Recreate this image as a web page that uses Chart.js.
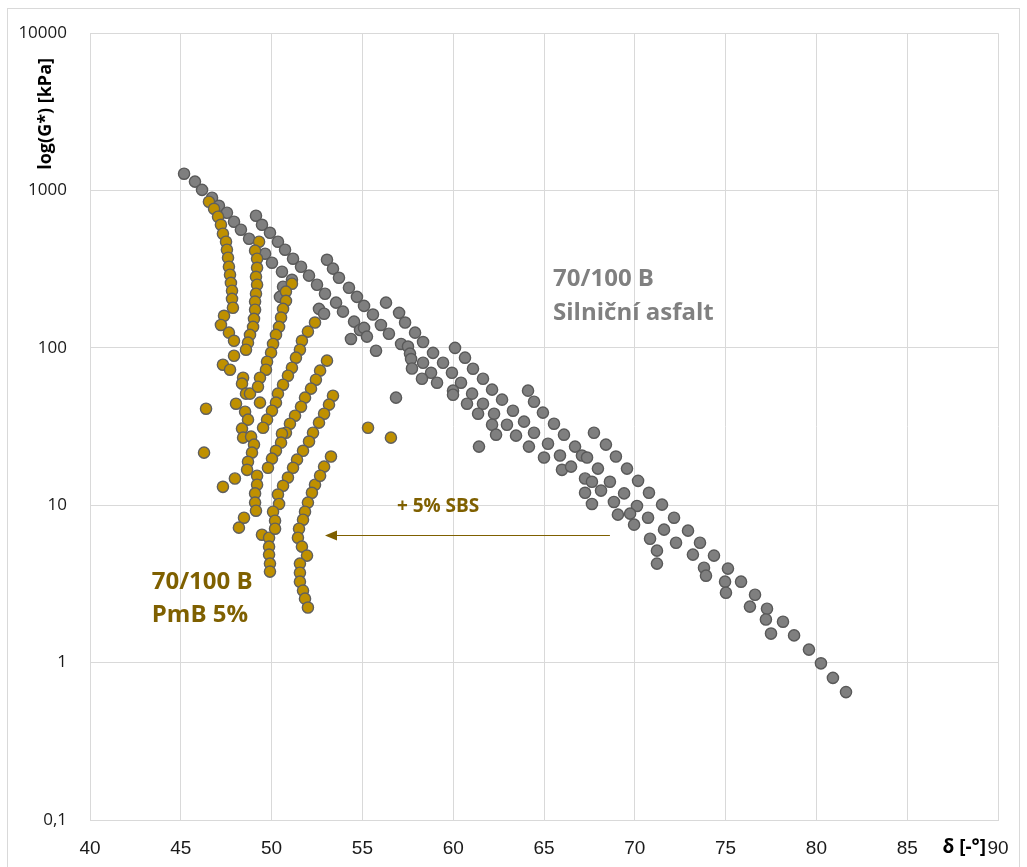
<!DOCTYPE html>
<html>
<head>
<meta charset="utf-8">
<script src="https://cdn.jsdelivr.net/npm/chart.js@4.4.0/dist/chart.umd.min.js"></script>
<style>
  html, body { margin: 0; padding: 0; background: #fff; }
  #wrap { width: 1027px; height: 867px; }
</style>
</head>
<body>
<div id="wrap"><canvas id="c" width="1027" height="867"></canvas></div>
<script>
"use strict";

// 70/100 B silnicni asfalt: phase angle [deg], G* [kPa]
const grayDelta = [
  45.18, 45.78, 46.17, 46.72, 47.10, 47.54, 47.93, 48.31, 48.76, 49.64, 50.02, 50.57, 51.12, 50.63, 50.46,
  49.14, 49.47, 49.91, 50.35, 50.74, 51.18, 51.62, 52.06, 52.50, 52.94, 53.55, 53.93, 54.54, 54.87, 55.09, 55.25, 54.37, 55.75, 52.61, 52.89,
  53.05, 53.38, 53.71, 54.26, 54.70, 55.09, 55.58, 56.02, 56.46, 57.13, 57.51, 57.62, 57.68, 57.73, 58.34, 58.78, 58.28, 59.11, 56.85,
  56.30, 57.02, 57.35, 57.90, 58.34, 58.89, 59.44, 59.93, 60.43, 61.04, 61.64, 62.25, 62.96, 63.46, 64.17, 65.00, 65.99,
  60.10, 60.65, 61.09, 61.64, 62.14, 62.69, 63.29, 63.90, 64.45, 65.22, 65.88, 66.49,
  59.99, 59.99, 60.76, 61.37, 62.14, 62.36, 61.42,
  64.12, 64.45, 64.94, 65.55, 66.10, 66.71, 67.09, 67.37, 67.97, 68.63, 69.41, 70.12, 70.73, 71.61, 72.27, 73.20, 73.81, 73.92, 74.97, 75.02, 76.34,
  67.75, 68.41, 68.96, 69.57, 70.18, 70.78, 71.50, 72.16, 72.93, 73.59, 74.36, 75.13, 75.85, 76.62,
  67.26, 67.64, 67.26, 68.14, 67.64, 68.85, 69.07, 69.74, 69.96, 70.84, 71.22, 71.22,
  77.28, 77.22, 78.16, 77.50, 78.77, 79.59, 80.25, 80.91, 81.63
];
const grayG = [
  1280, 1140, 1010, 900, 800, 723, 634, 564, 494, 397, 348, 305, 271, 245, 211,
  692, 606, 539, 473, 421, 369, 328, 288, 252, 221, 194, 170, 147, 130, 134, 118, 114, 96, 177, 165,
  363, 319, 279, 241, 211, 185, 163, 140, 123, 106, 102, 92, 85, 74, 80.5, 69.5, 63.7, 60.1, 48.3,
  194, 167, 145, 125, 109, 93, 80.5, 69.5, 60.1, 51.2, 44.2, 38.2, 32.5, 27.7, 23.6, 20.1, 16.8,
  100, 86.7, 73.8, 63.7, 54.3, 46.9, 39.9, 34.0, 28.9, 24.6, 20.7, 17.6,
  53.5, 50.4, 44.2, 38.2, 32.5, 28.1, 23.6,
  53.5, 45.5, 38.8, 33.0, 28.1, 23.6, 20.7, 20.1, 17.1, 14.1, 11.9, 9.9, 8.34, 7.0, 5.78, 4.86, 4.01, 3.57, 3.27, 2.78, 2.27,
  28.9, 24.3, 20.4, 17.1, 14.3, 12.0, 10.1, 8.34, 6.9, 5.78, 4.79, 3.96, 3.27, 2.70,
  14.8, 14.1, 12.0, 12.4, 10.2, 10.5, 8.72, 8.85, 7.53, 6.13, 5.15, 4.26,
  2.20, 1.88, 1.82, 1.53, 1.49, 1.21, 0.99, 0.80, 0.65
];

// 70/100 B PmB 5%
const goldDelta = [
  46.55, 46.83, 47.05, 47.21, 47.32, 47.49, 47.54, 47.60, 47.65, 47.71, 47.76, 47.82, 47.82, 47.87, 47.38, 47.21, 47.65, 47.93,
  47.32, 47.71, 48.43, 48.37, 48.59, 48.81, 48.04, 48.54, 48.70, 48.37, 48.43, 48.87, 49.03, 48.92, 48.70, 48.65, 47.98, 47.32,
  46.39, 46.28,
  49.20, 49.20, 49.09, 49.09, 49.14, 48.48, 48.20, 49.47, 49.86, 49.86, 49.86, 49.91, 49.91,
  52.39, 52.22, 52.00, 51.84, 51.73, 51.51, 51.45, 51.67, 51.95, 51.56, 51.56, 51.56, 51.73, 51.84, 52.00,
  49.31, 49.09, 49.20, 49.20, 49.14, 49.20, 49.14, 49.09, 49.09, 49.03, 48.98, 48.81, 48.70, 48.59, 47.93,
  51.12, 50.79, 50.79, 50.63, 50.52, 50.41, 50.24, 50.08, 49.97, 49.75, 49.69, 49.36, 49.25, 49.36,
  52.39, 52.00, 51.67, 51.56, 51.34, 51.12, 50.90, 50.63, 50.35, 50.24, 50.02, 49.75, 49.53,
  53.05, 52.67, 52.44, 52.17, 51.84, 51.62, 51.29, 51.01, 50.79, 50.57, 50.52, 50.24, 50.02, 49.80,
  53.38, 53.16, 52.89, 52.61, 52.28, 52.06, 51.73, 51.40, 51.18, 50.90, 50.63, 50.35, 50.41, 50.08, 50.19, 50.19,
  53.27, 52.89, 52.67,
  55.31, 56.57
];
const goldG = [
  849, 766, 682, 606, 532, 473, 421, 374, 328, 292, 259, 231, 205, 180, 160, 140, 125, 111,
  78.2, 72.7, 64.7, 59.3, 51.2, 51.2, 44.2, 39.3, 35.0, 30.7, 26.9, 27.3, 24.3, 21.6, 18.9, 16.8, 14.8, 13.1,
  41.1, 21.6,
  15.4, 13.5, 11.9, 10.4, 9.24, 8.34, 7.21, 6.50, 6.22, 5.46, 4.86, 4.26, 3.79,
  13.5, 12.0, 10.4, 9.1, 8.1, 7.1, 6.22, 5.46, 4.79, 4.26, 3.73, 3.27, 2.87, 2.55, 2.24,
  473, 415, 369, 323, 283, 252, 221, 197, 175, 153, 136, 121, 108, 97.4, 89.2,
  256, 228, 199, 177, 156, 136, 121, 106, 93.3, 81.7, 72.7, 64.7, 56.7, 44.9,
  145, 127, 111, 97.4, 86.7, 74.8, 66.6, 58.4, 51.2, 44.9, 39.9, 35.0, 31.1,
  83.0, 71.7, 62.8, 55.1, 48.3, 42.3, 37.1, 33.0, 28.9, 28.5, 25.0, 22.2, 19.8, 17.3,
  49.7, 43.6, 38.2, 33.5, 28.9, 25.4, 22.2, 19.5, 17.3, 15.0, 13.3, 11.7, 10.2, 9.1, 7.98, 7.1,
  20.4, 17.6, 15.4,
  31.1, 26.9
];

const xTicks = [40, 45, 50, 55, 60, 65, 70, 75, 80, 85, 90];
const yTicks = [0.1, 1, 10, 100, 1000, 10000];

const GRAY_TEXT = "#808080";
const GOLD_TEXT = "#7f6000";
const GRID = "#d9d9d9";

function toPoints(xs, ys) {
  return xs.map((x, i) => ({ x: x, y: ys[i] }));
}

// background, frame, axis titles and annotations
const decor = {
  id: "decor",
  beforeDraw(chart) {
    const ctx = chart.ctx;
    ctx.save();
    ctx.fillStyle = "#fff";
    ctx.fillRect(0, 0, chart.width, chart.height);
    ctx.strokeStyle = GRID;
    ctx.lineWidth = 1;
    ctx.strokeRect(7.5, 8.5, chart.width - 15, chart.height + 20);
    ctx.restore();
  },
  afterDatasetsDraw(chart) {
    const ctx = chart.ctx;
    const sx = chart.scales.x, sy = chart.scales.y;
    ctx.save();

    // y title
    ctx.fillStyle = "#000";
    ctx.font = "bold 18px 'Open Sans', sans-serif";
    ctx.translate(46, 58);
    ctx.rotate(-Math.PI / 2);
    ctx.textAlign = "right";
    ctx.textBaseline = "middle";
    ctx.fillText("log(G*) [kPa]", 0, 0);
    ctx.setTransform(1, 0, 0, 1, 0, 0);

    // x title
    ctx.font = "bold 19px 'Open Sans', sans-serif";
    ctx.textAlign = "right";
    ctx.textBaseline = "middle";
    ctx.fillText("\u03B4 [-\u00B0]", 986, 848);

    ctx.textAlign = "left";
    ctx.textBaseline = "alphabetic";

    // series labels
    ctx.font = "bold 24px 'Open Sans', sans-serif";
    ctx.fillStyle = GRAY_TEXT;
    ctx.fillText("70/100 B", sx.getPixelForValue(65.5), sy.getPixelForValue(248));
    ctx.fillText("Silni\u010Dn\u00ED asfalt", sx.getPixelForValue(65.5), sy.getPixelForValue(151));
    ctx.fillStyle = GOLD_TEXT;
    ctx.fillText("70/100 B", sx.getPixelForValue(43.4), sy.getPixelForValue(2.95));
    ctx.fillText("PmB 5%", sx.getPixelForValue(43.4), sy.getPixelForValue(1.8));

    // arrow + 5% SBS
    ctx.font = "bold 19px 'Open Sans', sans-serif";
    ctx.fillText("+ 5% SBS", sx.getPixelForValue(56.9), sy.getPixelForValue(9.1));
    const ay = Math.round(sy.getPixelForValue(6.5)) + 0.5;
    const x0 = sx.getPixelForValue(68.63), x1 = sx.getPixelForValue(52.94);
    ctx.strokeStyle = GOLD_TEXT;
    ctx.lineWidth = 1.2;
    ctx.beginPath();
    ctx.moveTo(x0, ay);
    ctx.lineTo(x1 + 10, ay);
    ctx.stroke();
    ctx.beginPath();
    ctx.moveTo(x1, ay);
    ctx.lineTo(x1 + 12, ay - 5);
    ctx.lineTo(x1 + 12, ay + 5);
    ctx.closePath();
    ctx.fill();
    ctx.restore();
  }
};

new Chart(document.getElementById("c"), {
  type: "scatter",
  data: {
    datasets: [
      {
        label: "70/100 B PmB 5%",
        data: toPoints(goldDelta, goldG),
        backgroundColor: "#bf9000",
        borderColor: "#5f5f5f",
        borderWidth: 1.4,
        pointRadius: 5.6,
        pointHoverRadius: 5.6,
        order: 0
      },
      {
        label: "70/100 B",
        data: toPoints(grayDelta, grayG),
        backgroundColor: "#7f7f7f",
        borderColor: "#595959",
        borderWidth: 1.4,
        pointRadius: 5.6,
        pointHoverRadius: 5.6,
        order: 1
      }
    ]
  },
  options: {
    responsive: false,
    animation: false,
    layout: { padding: { left: 0, top: 33, right: 29, bottom: 0 } },
    plugins: {
      legend: { display: false },
      tooltip: { enabled: false }
    },
    scales: {
      x: {
        type: "linear",
        min: 40,
        max: 90,
        afterBuildTicks: (s) => { s.ticks = xTicks.map(v => ({ value: v })); },
        afterFit: (s) => { s.height = 47; },
        grid: { color: GRID, drawTicks: false },
        border: { color: GRID },
        ticks: {
          padding: 17,
          color: "#1a1a1a",
          font: { family: "'Liberation Sans Narrow', 'Arial Narrow', sans-serif", size: 19 },
          maxRotation: 0
        }
      },
      y: {
        type: "logarithmic",
        min: 0.1,
        max: 10000,
        afterBuildTicks: (s) => { s.ticks = yTicks.map(v => ({ value: v })); },
        afterFit: (s) => { s.width = 90; },
        grid: { color: GRID, drawTicks: false },
        border: { color: GRID },
        ticks: {
          padding: 23,
          color: "#1a1a1a",
          font: { family: "'Open Sans', sans-serif", size: 17 },
          callback: (v) => String(v).replace(".", ",")
        }
      }
    }
  },
  plugins: [decor]
});
</script>
</body>
</html>
